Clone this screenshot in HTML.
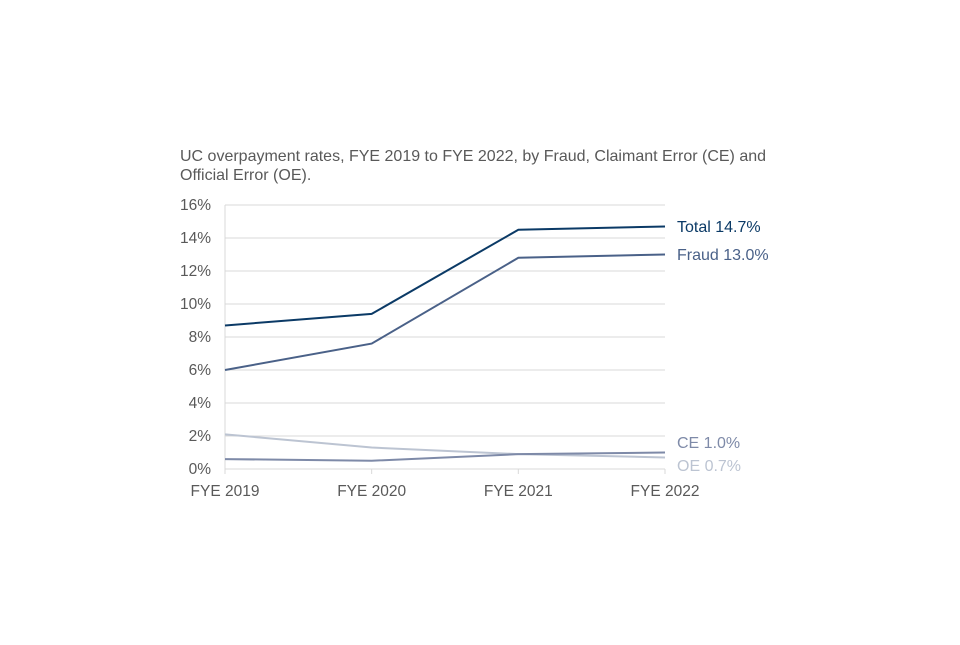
<!DOCTYPE html>
<html><head><meta charset="utf-8"><style>
html,body{margin:0;padding:0;background:#fff;}
svg text{font-family:"Liberation Sans",Arial,sans-serif;}
</style></head><body>
<svg width="960" height="640" viewBox="0 0 960 640" xmlns="http://www.w3.org/2000/svg">
<text x="180" y="161" font-size="16" fill="#595959">UC overpayment rates, FYE 2019 to FYE 2022, by Fraud, Claimant Error (CE) and</text>
<text x="180" y="180" font-size="16" fill="#595959">Official Error (OE).</text>
<g id="grid"></g>
<g id="axes"></g>
<g id="series"></g>
<g id="labels"></g>
</svg>
<script>
const categories=["FYE 2019","FYE 2020","FYE 2021","FYE 2022"];
const yTicks=[0,2,4,6,8,10,12,14,16];
const total=[8.7,9.4,14.5,14.7];
const fraud=[6.0,7.6,12.8,13.0];
const ce=[0.6,0.5,0.9,1.0];
const oe=[2.1,1.3,0.9,0.7];
const seriesNames=["Total","Fraud","CE","OE"];
const NS="http://www.w3.org/2000/svg";
const x0=225,x1=665,yb=469,yt=205;
function xs(i){return x0+(x1-x0)*i/(categories.length-1);}
function ys(v){return yb-(yb-yt)*v/16;}
function mk(tag,attrs,parent){const e=document.createElementNS(NS,tag);for(const k in attrs)e.setAttribute(k,attrs[k]);parent.appendChild(e);return e;}
const grid=document.getElementById('grid'),axes=document.getElementById('axes'),ser=document.getElementById('series'),lab=document.getElementById('labels');
yTicks.forEach(t=>{
  if(t>0){const l=mk('line',{x1:x0,x2:x1,y1:ys(t),y2:ys(t),stroke:'#d9d9d9','stroke-width':1},grid);
  
  }
  const tx=mk('text',{x:211,y:ys(t)+5,'font-size':15.5,fill:'#595959','text-anchor':'end'},axes);
  tx.textContent=t+'%';
  
  
});
const ya=mk('line',{x1:x0,x2:x0,y1:yt,y2:yb,stroke:'#d9d9d9'},axes);


const xa=mk('line',{x1:x0,x2:x1,y1:yb,y2:yb,stroke:'#d9d9d9'},axes);


categories.forEach((c,i)=>{
  mk('line',{x1:xs(i),x2:xs(i),y1:yb,y2:yb+5,stroke:'#d9d9d9'},axes);
  const tx=mk('text',{x:xs(i),y:yb+27,'font-size':15.5,fill:'#595959','text-anchor':'middle'},axes);
  tx.textContent=c;
  
  
});
const defs=[[oe,'#bcc4d2',471,'OE'],[ce,'#7e8aa8',448,'CE'],[fraud,'#4a6188',260,'Fraud'],[total,'#0b3a66',232,'Total']];
defs.forEach(([d,col,ly,name])=>{
  const p=mk('polyline',{points:d.map((v,i)=>xs(i)+','+ys(v)).join(' '),fill:'none',stroke:col,'stroke-width':2},ser);
  
  
  const t=mk('text',{x:677,y:ly,'font-size':16,fill:col},lab);
  t.textContent=name+' '+d[d.length-1].toFixed(1)+'%';
  
  
});
</script>
</body></html>
